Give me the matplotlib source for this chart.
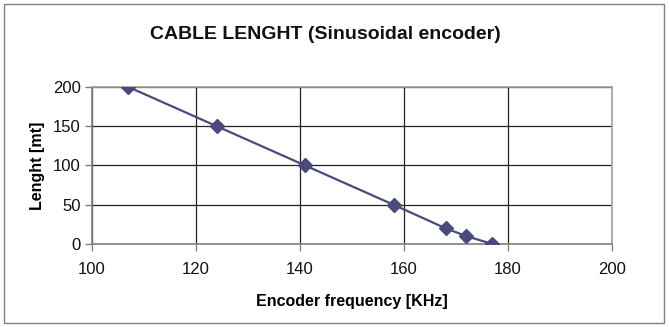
import matplotlib.pyplot as plt
import matplotlib.patches as patches

# cable length vs encoder frequency
freq_khz = [107, 124, 141, 158, 168, 172, 177]
length_mt = [200, 150, 100, 50, 20, 10, 0]
x_ticks = [100, 120, 140, 160, 180, 200]
y_ticks = [0, 50, 100, 150, 200]

plt.rcParams['font.family'] = ['Liberation Sans', 'DejaVu Sans']

fig = plt.figure(figsize=(6.69, 3.27), dpi=100)
ax = fig.add_axes([0.1375, 0.2538, 0.7773, 0.4802])

# outer frame around the whole chart
fig.patches.append(patches.Rectangle((0.006, 0.012), 0.987, 0.976, transform=fig.transFigure,
                                     fill=False, edgecolor='#808080', linewidth=1.0))

ax.plot(freq_khz, length_mt, color='#4a4a7c', linewidth=1.6, marker='D',
        markersize=7, markerfacecolor='#4a4a7c', markeredgecolor='#4a4a7c', zorder=3)

ax.set_xlim(100, 200)
ax.set_ylim(0, 200)
ax.set_xticks(x_ticks)
ax.set_yticks(y_ticks)
ax.grid(True, color='#222222', linewidth=0.9)
ax.set_axisbelow(True)

for side in ['left', 'bottom']:
    ax.spines[side].set_color('#808080')
    ax.spines[side].set_linewidth(1.2)
for side in ['top', 'right']:
    ax.spines[side].set_color('#a0a0a0')
    ax.spines[side].set_linewidth(1.2)

ax.tick_params(axis='both', direction='out', length=5, width=1.0, color='#808080',
               labelsize=12, labelcolor='#111111')
ax.tick_params(axis='x', pad=8)
ax.tick_params(axis='y', pad=3)

ax.set_xlabel('Encoder frequency [KHz]', fontsize=11.5, fontweight='bold', labelpad=12)
ax.set_ylabel('Lenght [mt]', fontsize=11.5, fontweight='bold', labelpad=6)
fig.text(0.487, 0.895, 'CABLE LENGHT (Sinusoidal encoder)', ha='center', va='center',
         fontsize=14, fontweight='bold', color='#111111')

fig.savefig('out.png', dpi=100)
